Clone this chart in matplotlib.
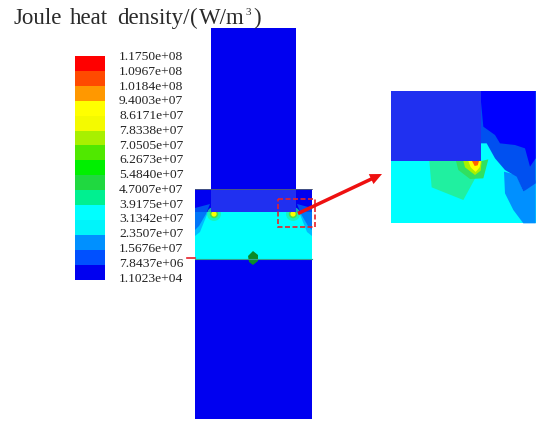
import matplotlib
matplotlib.use("Agg")
import matplotlib.pyplot as plt
from matplotlib.patches import Rectangle, Polygon, Circle, FancyArrow

W, H = 537, 422
title_parts = ["Joule", "heat", "density/", "(", "W/m", "3", ")"]
level_labels = ["1.1750e+08", "1.0967e+08", "1.0184e+08", "9.4003e+07", "8.6171e+07", "7.8338e+07",
                "7.0505e+07", "6.2673e+07", "5.4840e+07", "4.7007e+07", "3.9175e+07", "3.1342e+07",
                "2.3507e+07", "1.5676e+07", "7.8437e+06", "1.1023e+04"]
band_colors = ["#ff0000", "#ff4a00", "#ff9800", "#ffff00", "#f4fa00", "#a8f000", "#50e800", "#00f000",
               "#20d840", "#00f090", "#00ffff", "#00f4fa", "#0090ff", "#0050ff", "#0000f0"]

BLUE = "#0000f0"
OVER = "#2030f0"
CYAN = "#00ffff"
B2 = "#0050f0"
B3 = "#0090ff"
G1 = "#20f0a0"
G2 = "#30e060"

fig = plt.figure(figsize=(W / 100, H / 100), dpi=100)
ax = fig.add_axes([0, 0, 1, 1])
ax.set_xlim(0, W)
ax.set_ylim(H, 0)
ax.axis("off")

# colour bar
bar_x, bar_w, bar_top, bar_h = 75, 30, 56, 14.9
for i, c in enumerate(band_colors):
    ax.add_patch(Rectangle((bar_x, bar_top + i * bar_h), bar_w, bar_h, fc=c, ec="none"))
for i, s in enumerate(level_labels):
    ax.text(119, 57 + i * 14.77, s, family="Liberation Serif", fontsize=9.7, color="#222222",
            va="center", ha="left")

# title, placed word by word to keep its wide spacing
title_x = [13, 70, 117, 190, 199, 246, 253]
title_y = [24, 24, 24, 24, 24, 15, 24]
title_size = [16.5, 16.5, 16.5, 16.5, 16.5, 8, 16.5]
for s, x, y, fs in zip(title_parts, title_x, title_y, title_size):
    ax.text(x, y, s, family="Liberation Serif", fontsize=fs, color="#2a2a2a", va="baseline", ha="left")

# main model
ax.add_patch(Rectangle((211, 28), 85, 162, fc=BLUE, ec="none"))
ax.add_patch(Rectangle((195, 189), 117, 24, fc=BLUE, ec="none"))
ax.add_patch(Rectangle((195, 212), 117, 47, fc=CYAN, ec="none"))
ax.add_patch(Rectangle((195, 259), 117, 160, fc=BLUE, ec="none"))
left_wedge = [(195, 208), (210, 204), (206, 214), (199, 226), (195, 230)]
right_wedge = [(312, 208), (297, 204), (301, 214), (308, 226), (312, 230)]
ax.add_patch(Polygon(left_wedge, fc=B2, ec="none"))
ax.add_patch(Polygon(right_wedge, fc=B2, ec="none"))
ax.add_patch(Polygon([(195, 212), (208, 212), (200, 232), (195, 236)], fc=B3, ec="none", alpha=.6))
ax.add_patch(Polygon([(312, 212), (299, 212), (307, 232), (312, 236)], fc=B3, ec="none", alpha=.6))
for cx, cy in [(214, 214), (293, 214)]:
    ax.add_patch(Circle((cx, cy), 7, fc=G1, ec="none", alpha=.7))
    ax.add_patch(Circle((cx, cy), 4.2, fc="#50e040", ec="none"))
    ax.add_patch(Circle((cx, cy), 2.6, fc="#ffff00", ec="none"))
ax.add_patch(Rectangle((211, 189), 85, 23, fc=OVER, ec="none"))
ax.plot([195, 312], [259, 259], color="#30a090", lw=.8)
ax.plot([195, 312], [189, 189], color="#506070", lw=.6)
ax.add_patch(Polygon([(248, 256), (253, 251), (258, 255), (258, 261), (253, 265), (249, 262)],
                     fc="#0a8a28", ec="none"))
ax.plot([187, 195], [258, 258], color="#e8202a", lw=1.2)
ax.add_patch(Rectangle((278, 199), 36.5, 28, fc="none", ec="#e8202a", lw=1.2, ls=(0, (3, 1.5))))
ax.add_patch(FancyArrow(298, 213.5, 84, -39.5, width=3.5, head_width=11, head_length=12,
                        length_includes_head=True, fc="#ee1010", ec="none"))

# inset
def zp(pts):
    return [(380 + x / 3, 80 + y / 3) for x, y in pts]

ax.add_patch(Rectangle((391, 91), 145, 132, fc=CYAN, ec="none"))
ax.add_patch(Polygon(zp([(372, 275), (375, 340), (400, 390), (430, 430), (467, 430), (467, 300), (430, 335), (410, 285)]),
                     fc=B3, ec="none"))
ax.add_patch(Polygon(zp([(300, 33), (467, 33), (467, 310), (430, 335), (410, 290), (375, 270), (345, 235), (320, 190), (303, 190)]),
                     fc=B2, ec="none"))
ax.add_patch(Polygon(zp([(300, 33), (467, 33), (467, 235), (450, 260), (435, 205), (405, 195), (360, 190), (345, 165), (310, 140)]),
                     fc="#0000ff", ec="none"))
ax.add_patch(Rectangle((391, 91), 90, 70, fc=OVER, ec="none"))
ax.add_patch(Polygon(zp([(148, 243), (155, 322), (250, 360), (280, 305), (312, 243)]), fc=G1, ec="none"))
ax.add_patch(Polygon(zp([(228, 243), (235, 270), (270, 297), (310, 295), (325, 238), (305, 243)]), fc=G2, ec="none"))
ax.add_patch(Polygon(zp([(250, 243), (255, 262), (285, 285), (302, 272), (305, 243)]), fc="#a8f000", ec="none"))
ax.add_patch(Polygon(zp([(265, 243), (272, 262), (287, 276), (299, 262), (303, 243)]), fc="#ffff00", ec="none"))
ax.add_patch(Polygon(zp([(276, 243), (284, 258), (293, 256), (297, 243)]), fc="#ff6000", ec="none"))

fig.savefig("out.png", dpi=100)
